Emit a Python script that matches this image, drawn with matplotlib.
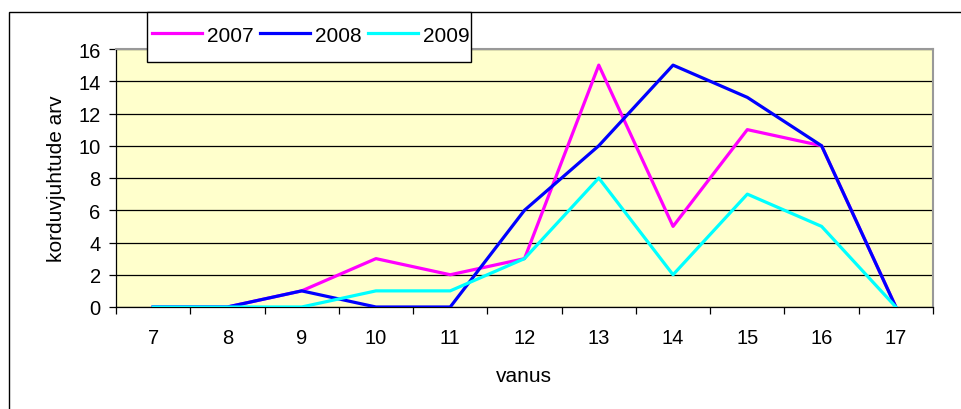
import matplotlib
matplotlib.use('Agg')
import matplotlib.pyplot as plt
from matplotlib.patches import Rectangle

plt.rcParams['font.family'] = ['Liberation Sans', 'DejaVu Sans']

# data
ages = ['7', '8', '9', '10', '11', '12', '13', '14', '15', '16', '17']
y2007 = [0, 0, 1, 3, 2, 3, 15, 5, 11, 10, 0]
y2008 = [0, 0, 1, 0, 0, 6, 10, 15, 13, 10, 0]
y2009 = [0, 0, 0, 1, 1, 3, 8, 2, 7, 5, 0]
y_ticks = [0, 2, 4, 6, 8, 10, 12, 14, 16]

W, H = 962, 410
fig = plt.figure(figsize=(W / 100, H / 100), dpi=100)

# outer chart frame (runs off the right and bottom edge)
fig.patches.append(Rectangle((9 / W, -0.1), 1.2, 1 - 13 / H + 0.1,
                             transform=fig.transFigure, fill=False,
                             edgecolor='black', linewidth=1))

ax = fig.add_axes([116 / W, 1 - 308 / H, (933 - 116) / W, (308 - 50) / H])
ax.set_facecolor('#FFFFCC')

x = list(range(len(ages)))
ax.plot(x, y2007, color='#FF00FF', lw=2.3, label='2007', zorder=3)
ax.plot(x, y2008, color='#0000FF', lw=2.3, label='2008', zorder=3)
ax.plot(x, y2009, color='#00FFFF', lw=2.3, label='2009', zorder=3)

ax.set_xlim(-0.5, len(ages) - 0.5)
ax.set_ylim(0, 16)
ax.set_yticks(y_ticks)
ax.yaxis.grid(True, color='black', linewidth=0.9)
ax.set_axisbelow(True)

# category axis: tick marks between categories, labels centred
ax.set_xticks([i - 0.5 for i in range(len(ages) + 1)])
ax.set_xticklabels([])
ax.set_xticks(x, minor=True)
ax.set_xticklabels(ages, minor=True)
ax.tick_params(axis='x', which='minor', length=0, pad=15, labelsize=14.5)
ax.tick_params(axis='x', which='major', length=5, width=0.9)
ax.tick_params(axis='y', length=5, width=0.9, pad=6, labelsize=14.5)

for s in ['top', 'right']:
    ax.spines[s].set_color('#999999')
    ax.spines[s].set_linewidth(1.5)
for s in ['left', 'bottom']:
    ax.spines[s].set_color('black')
    ax.spines[s].set_linewidth(0.9)

ax.set_ylabel('korduvjuhtude arv', fontsize=15, labelpad=9)
fig.text(524 / W, 1 - 377 / H, 'vanus', fontsize=15, ha='center', va='center')

# legend box drawn separately so it can be tight left/right but tall
fig.patches.append(Rectangle((147 / W, 1 - 63 / H), (471 - 147) / W, 50 / H,
                             transform=fig.transFigure, facecolor='white',
                             edgecolor='black', linewidth=1, zorder=4))
leg = fig.legend(loc='center left', bbox_to_anchor=(150 / W, 1 - 36 / H),
                 ncol=3, fontsize=15, frameon=False, handlelength=2.4,
                 handletextpad=0.25, columnspacing=0.3, borderpad=0.1,
                 borderaxespad=0)
leg.set_zorder(5)
for line in leg.get_lines():
    line.set_linewidth(2.3)

fig.savefig('out.png', dpi=100)
